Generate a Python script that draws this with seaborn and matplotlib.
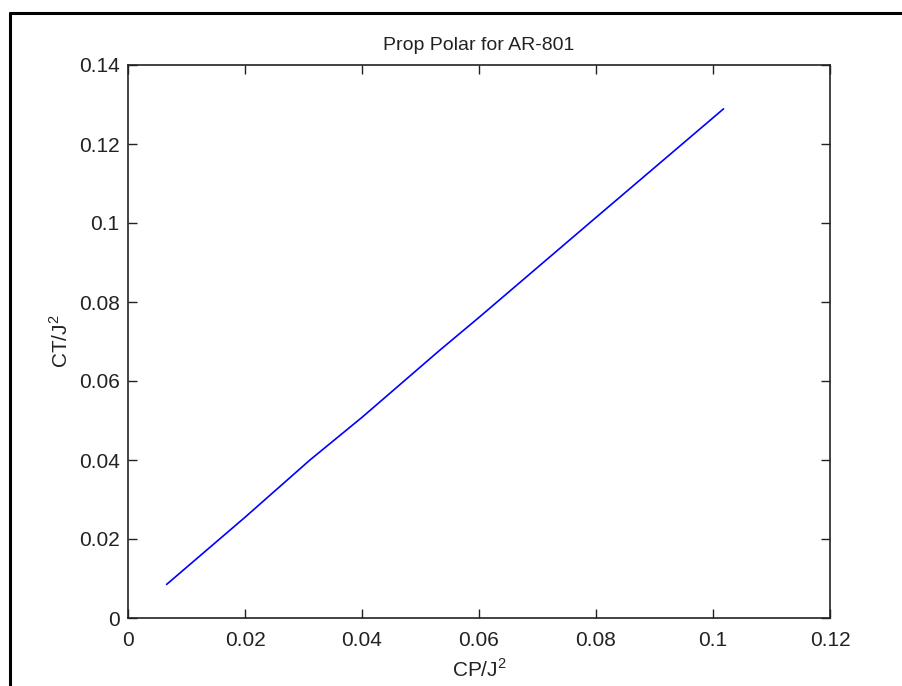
import matplotlib
matplotlib.use("Agg")
import matplotlib.pyplot as plt
import seaborn as sns
import pandas as pd
from matplotlib.lines import Line2D

# Data
cp_j2 = [0.0066, 0.0200, 0.0311, 0.0400, 0.0533, 0.0600, 0.0800, 0.1018]
ct_j2 = [0.0085, 0.0255, 0.0400, 0.0508, 0.0678, 0.0761, 0.1014, 0.1289]

x_ticks = [0, 0.02, 0.04, 0.06, 0.08, 0.1, 0.12]
x_tick_labels = ["0", "0.02", "0.04", "0.06", "0.08", "0.1", "0.12"]
y_ticks = [0, 0.02, 0.04, 0.06, 0.08, 0.1, 0.12, 0.14]
y_tick_labels = ["0", "0.02", "0.04", "0.06", "0.08", "0.1", "0.12", "0.14"]

sns.set_style("white")
plt.rcParams["font.family"] = ["Liberation Sans", "DejaVu Sans"]
plt.rcParams["mathtext.fontset"] = "custom"
plt.rcParams["mathtext.rm"] = "Liberation Sans"

df = pd.DataFrame({"cp": cp_j2, "ct": ct_j2})

fig = plt.figure(figsize=(9.02, 6.86), dpi=100, facecolor="white")
ax = fig.add_axes([128/902, 1-618/686, (830-128)/902, (618-65)/686])
sns.lineplot(data=df, x="cp", y="ct", ax=ax, color="#0000ff", linewidth=1.2, sort=False)

ax.set_xlim(0, 0.12)
ax.set_ylim(0, 0.14)
ax.set_xticks(x_ticks)
ax.set_xticklabels(x_tick_labels)
ax.set_yticks(y_ticks)
ax.set_yticklabels(y_tick_labels)
ax.tick_params(direction="in", length=6.5, width=1, colors="#222222", labelsize=15,
               top=True, right=True, left=True, bottom=True)
ax.tick_params(axis="x", pad=9)
ax.tick_params(axis="y", pad=6)
for s in ax.spines.values():
    s.set_visible(True)
    s.set_color("#222222")
    s.set_linewidth(1.2)

ax.set_xlabel(r"CP/J$^2$", fontsize=15, color="#222222", labelpad=6)
ax.set_ylabel(r"CT/J$^2$", fontsize=15, color="#222222", labelpad=5)
ax.set_title("Prop Polar for AR-801", fontsize=14, color="#222222", pad=11)

# black frame lines of the screenshot (left and top)
fig.add_artist(Line2D([10/902, 10/902], [0, 1-13/686], transform=fig.transFigure, color="black", linewidth=2.2))
fig.add_artist(Line2D([10/902, 1], [1-13/686, 1-13/686], transform=fig.transFigure, color="black", linewidth=2.2))

fig.savefig("out.png", dpi=100, facecolor="white")
